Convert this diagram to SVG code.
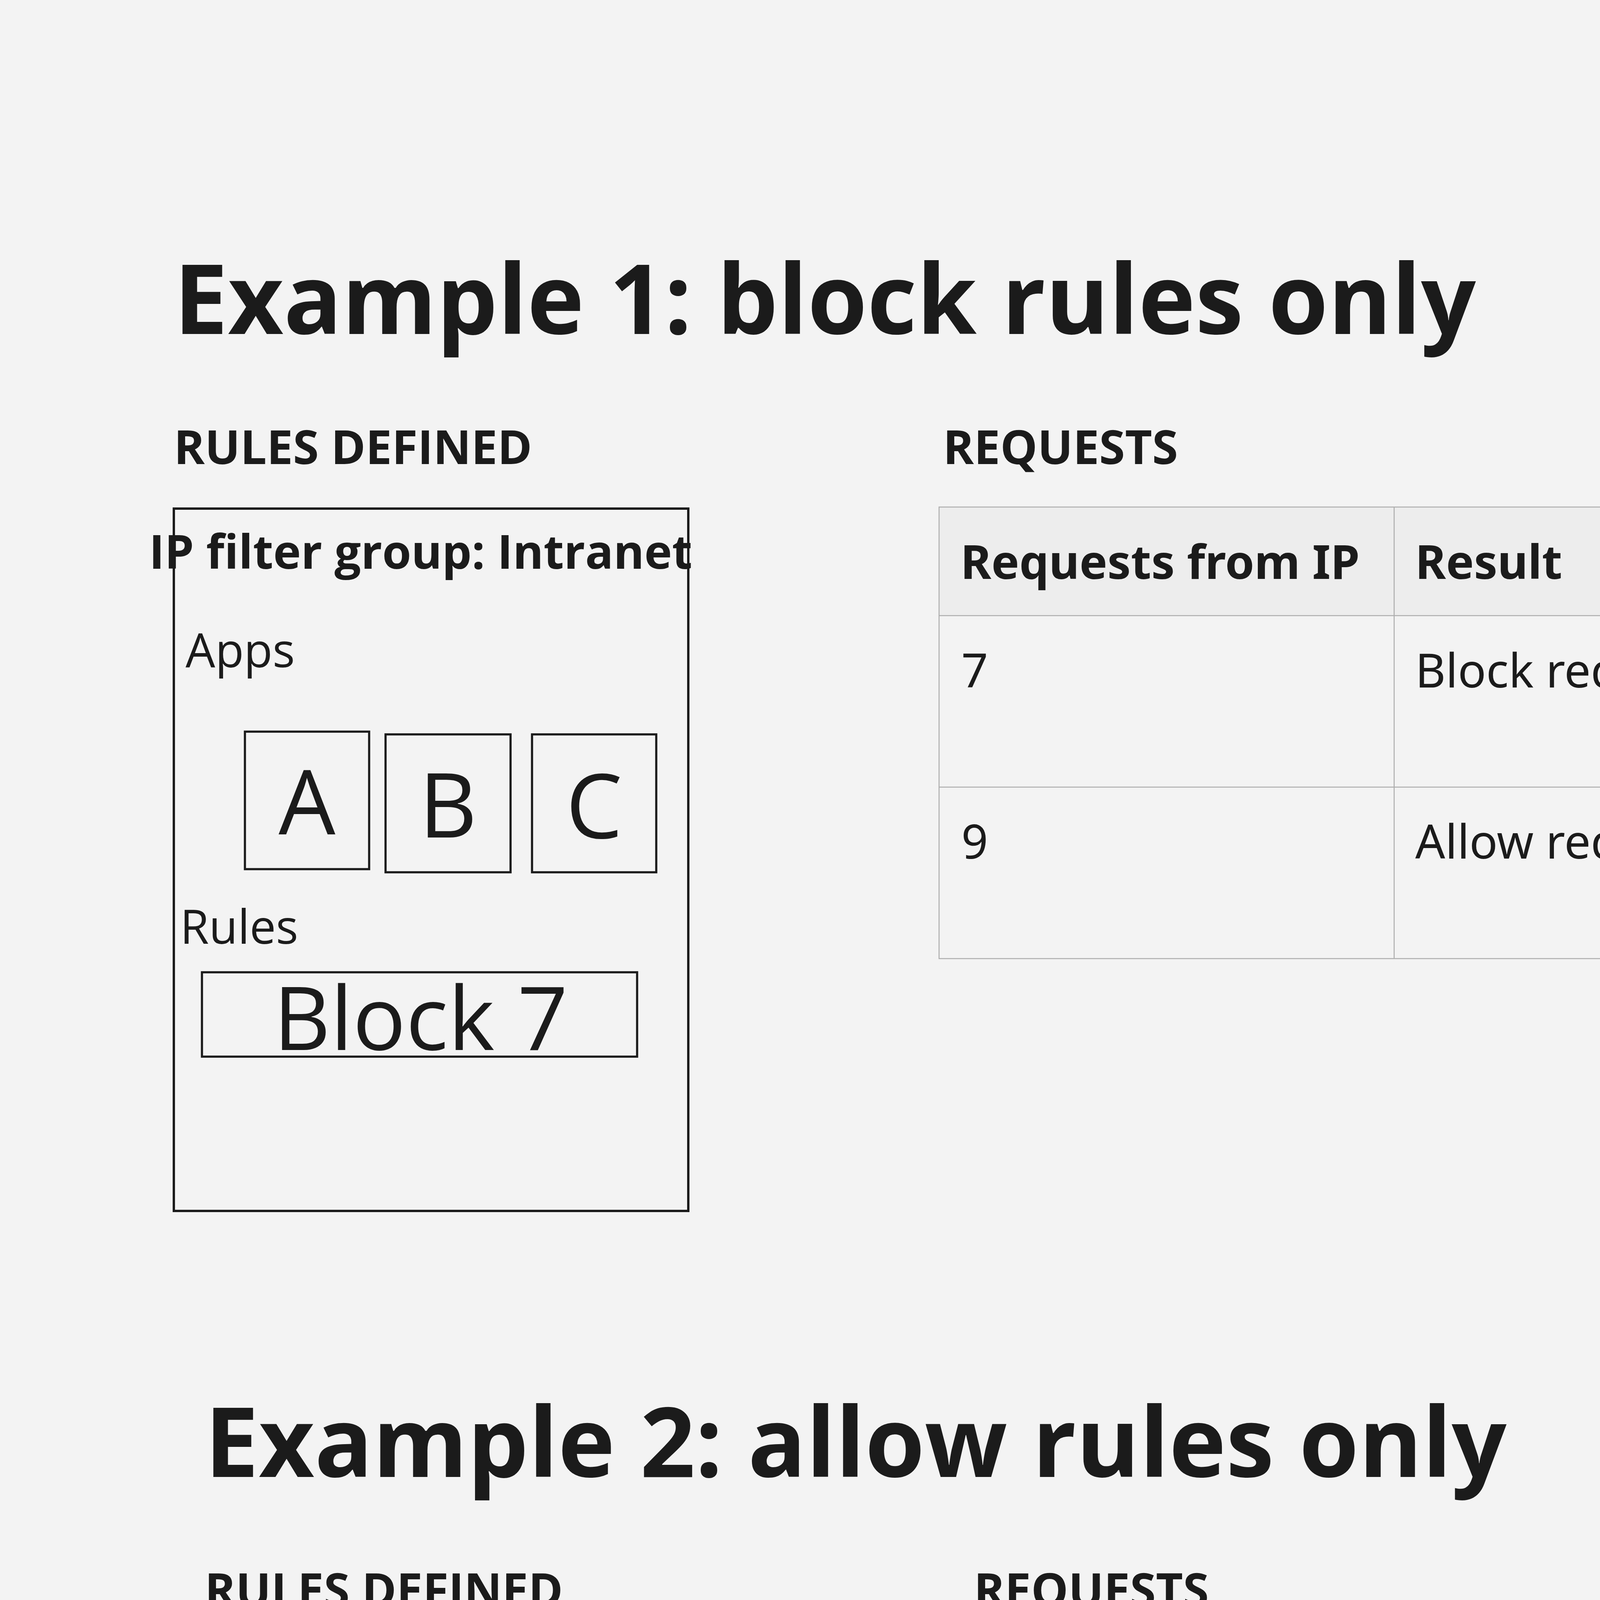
<svg xmlns="http://www.w3.org/2000/svg" width="7868" height="6227" viewBox="0 0 7868 6227">
<style>
text{font-family:"Open Sans","Noto Sans","DejaVu Sans",sans-serif;fill:#1b1b1b}
.title{font-size:247px;font-weight:700}
.sub{font-size:120px;font-weight:700}
.gtitle{font-size:120px;font-weight:700;text-anchor:middle}
.lbl{font-size:120px}
.big{font-size:230px;text-anchor:middle}
.rule{font-size:226px;text-anchor:middle}
.th{font-family:"Noto Sans","Open Sans",sans-serif;font-size:120px;font-weight:700}
.td{font-family:"Noto Sans","Open Sans",sans-serif;font-size:120px}
.grp{fill:none;stroke:#1b1b1b;stroke-width:6}
.box{fill:none;stroke:#1b1b1b;stroke-width:5.5}
.tbl{fill:none;stroke:#adadad;stroke-width:2.5}
.hdr{fill:#ededed}
</style>
<rect x="0" y="0" width="7868" height="6227" fill="#f3f3f3"/>

<g id="example1">
  <text class="title" x="445" y="855">Example 1: block rules only</text>
  <text class="sub" x="445" y="1188">RULES DEFINED</text>
  <text class="sub" x="2414" y="1188">REQUESTS</text>

  <g id="group1">
    <rect class="grp" x="445" y="1302" width="1317" height="1798"/>
    <text class="gtitle" x="1077" y="1456">IP filter group: Intranet</text>
    <text class="lbl" x="475" y="1708">Apps</text>
    <g id="app1A"><rect class="box" x="627" y="1873" width="318" height="352"/><text class="big" x="786" y="2136">A</text></g>
    <g id="app1B"><rect class="box" x="987" y="1880" width="320" height="353"/><text class="big" x="1147" y="2144">B</text></g>
    <g id="app1C"><rect class="box" x="1362" y="1880" width="318" height="353"/><text class="big" x="1521" y="2146">C</text></g>
    <text class="lbl" x="461" y="2416">Rules</text>
    <g id="rule1"><rect class="box" x="517" y="2489" width="1114" height="216"/><text class="rule" x="1077" y="2688">Block 7</text></g>
  </g>

  <g id="table1">
    <rect class="hdr" x="2404" y="1298" width="4679" height="278"/>
    <rect class="tbl" x="2404" y="1298" width="4679" height="1156"/>
    <line class="tbl" x1="2404" y1="1576" x2="7083" y2="1576"/>
    <line class="tbl" x1="2404" y1="2015" x2="7083" y2="2015"/>
    <line class="tbl" x1="3569" y1="1298" x2="3569" y2="2454"/>
    <line class="tbl" x1="4512" y1="1298" x2="4512" y2="2454"/>
    <text class="th" x="2459" y="1482">Requests from IP</text>
    <text class="th" x="3623" y="1482">Result</text>
    <text class="th" x="4563" y="1482">Reasoning</text>
    <text class="td" x="2461" y="1760">7</text>
    <text class="td" x="3623" y="1760">Block request</text>
    <text class="td" x="4569" y="1760">There's an explicit rule blocking requests</text>
    <text class="td" x="4569" y="1919">from that IP address</text>
    <text class="td" x="2461" y="2198">9</text>
    <text class="td" x="3623" y="2198">Allow request</text>
    <text class="td" x="4569" y="2198">There are no explicit rules for this IP, but the</text>
    <text class="td" x="4569" y="2358" xml:space="preserve"> default rule is allow.</text>
  </g>
</g>

<g id="example2">
  <text class="title" x="524" y="3781">Example 2: allow rules only</text>
  <text class="sub" x="524" y="4114">RULES DEFINED</text>
  <text class="sub" x="2493" y="4114">REQUESTS</text>

  <g id="group2">
    <rect class="grp" x="524" y="4228" width="1315" height="1798"/>
    <text class="gtitle" x="1137" y="4391">IP filter group: Intranet</text>
    <text class="lbl" x="554" y="4634">Apps</text>
    <g id="app2A"><rect class="box" x="706" y="4797" width="318" height="355"/><text class="big" x="865" y="5062">A</text></g>
    <g id="app2B"><rect class="box" x="1066" y="4805" width="320" height="355"/><text class="big" x="1226" y="5070">B</text></g>
    <g id="app2C"><rect class="box" x="1440" y="4805" width="320" height="355"/><text class="big" x="1600" y="5072">C</text></g>
    <text class="lbl" x="542" y="5342">Rules</text>
    <g id="rule2"><rect class="box" x="595" y="5415" width="1117" height="216"/><text class="rule" x="1149" y="5612">Allow 1-20</text></g>
  </g>

  <g id="table2">
    <rect class="hdr" x="2483" y="4225" width="4679" height="278"/>
    <rect class="tbl" x="2483" y="4225" width="4679" height="1155"/>
    <line class="tbl" x1="2483" y1="4503" x2="7162" y2="4503"/>
    <line class="tbl" x1="2483" y1="4942" x2="7162" y2="4942"/>
    <line class="tbl" x1="3648" y1="4225" x2="3648" y2="5380"/>
    <line class="tbl" x1="4591" y1="4225" x2="4591" y2="5380"/>
    <text class="th" x="2538" y="4408">Requests from IP</text>
    <text class="th" x="3702" y="4408">Result</text>
    <text class="th" x="4642" y="4408">Reasoning</text>
    <text class="td" x="2540" y="4686">7</text>
    <text class="td" x="3702" y="4686">Allow request</text>
    <text class="td" x="4648" y="4686">There's an explicit rule allowing requests for</text>
    <text class="td" x="4648" y="4845">the range that includes that IP</text>
    <text class="td" x="2540" y="5124">22</text>
    <text class="td" x="3702" y="5124">Block request</text>
    <text class="td" x="4648" y="5124">There are no explicit rules for this IP, but the</text>
    <text class="td" x="4648" y="5284" xml:space="preserve"> default rule is block.</text>
  </g>
</g>
</svg>
